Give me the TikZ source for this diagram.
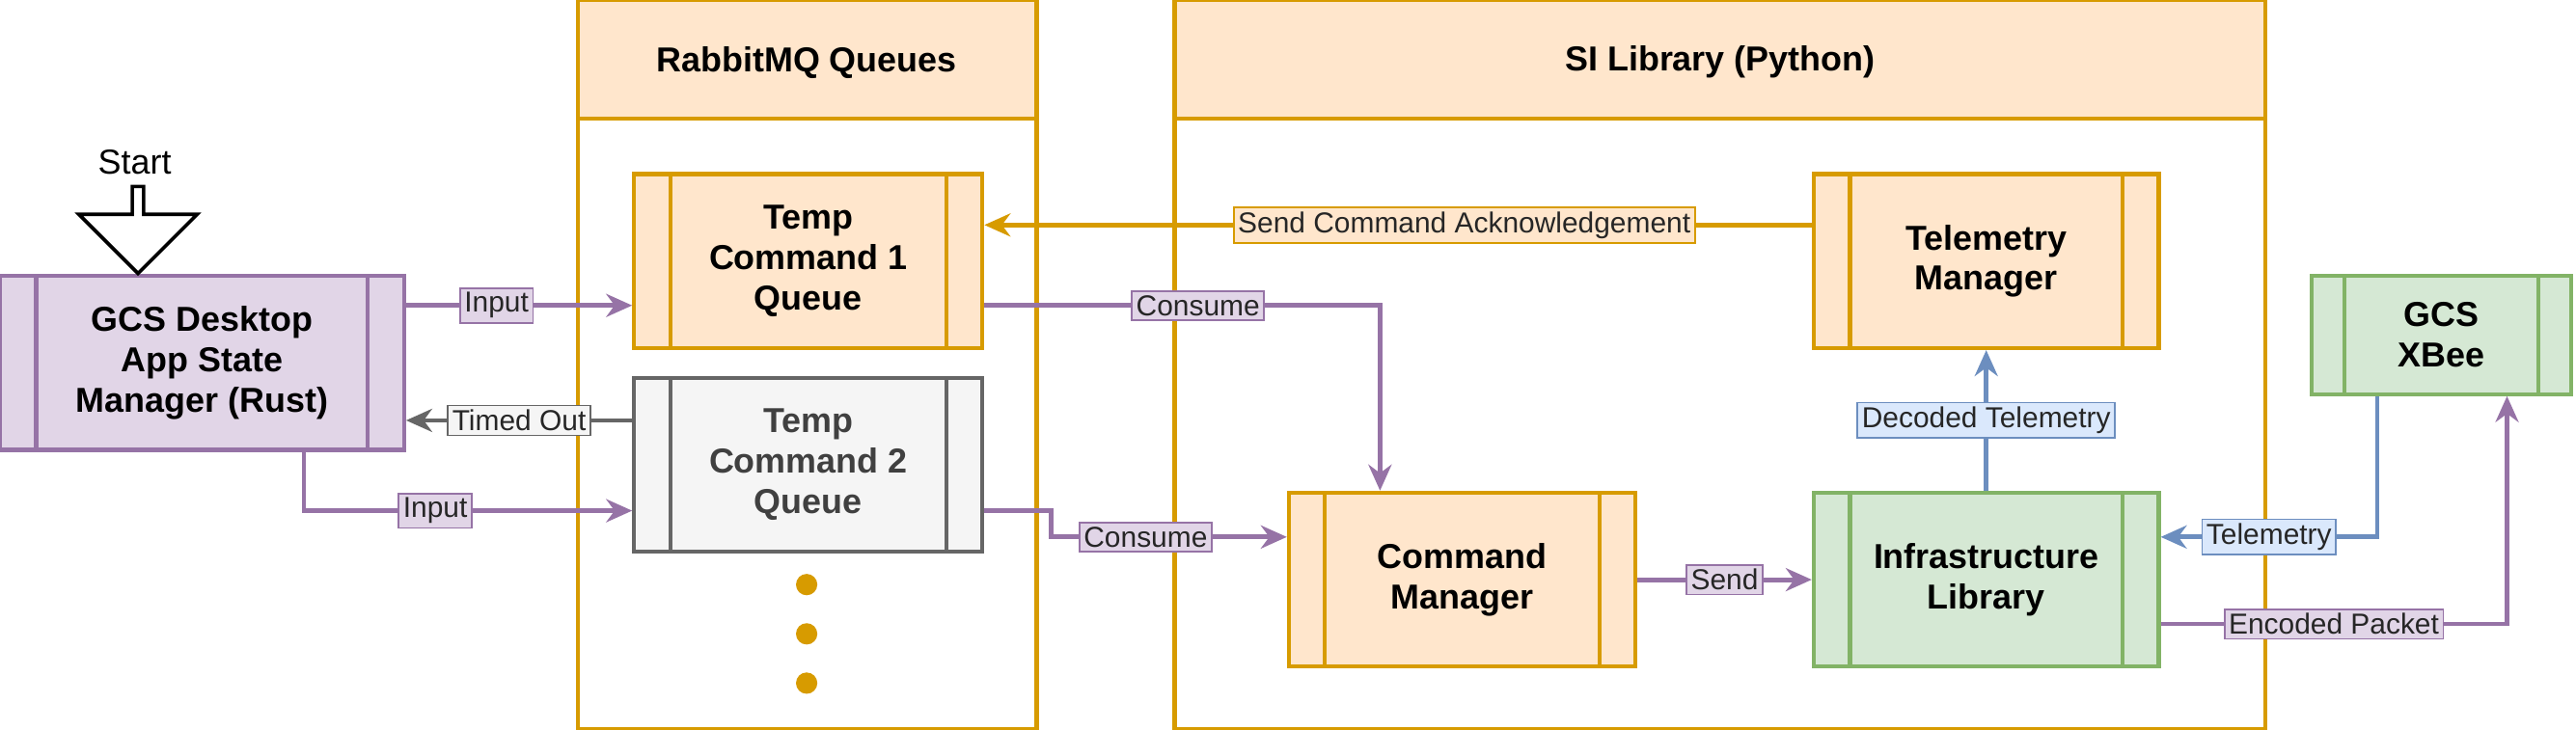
\documentclass[tikz,border=0pt]{standalone}
\usepackage{fontspec}
\setmainfont{Liberation Sans}
\usetikzlibrary{arrows.meta,calc,shapes.arrows}
\definecolor{pfill}{HTML}{E1D5E7}\definecolor{pline}{HTML}{9673A6}
\definecolor{ofill}{HTML}{FFE6CC}\definecolor{oline}{HTML}{D79B00}
\definecolor{gfill}{HTML}{F5F5F5}\definecolor{gline}{HTML}{666666}
\definecolor{nfill}{HTML}{D5E8D4}\definecolor{nline}{HTML}{82B366}
\definecolor{bfill}{HTML}{DAE8FC}\definecolor{bline}{HTML}{6C8EBF}
\tikzset{
  proc/.style={draw=#1line,fill=#1fill,line width=1.4pt,align=center,font=\bfseries\large,
    inner sep=0pt,
    path picture={\draw[#1line,line width=1.4pt]
      ([xshift=0.44cm]path picture bounding box.north west) -- ([xshift=0.44cm]path picture bounding box.south west)
      ([xshift=-0.44cm]path picture bounding box.north east) -- ([xshift=-0.44cm]path picture bounding box.south east);}},
  lane/.style={draw=oline,line width=1.4pt},
  conn/.style={line width=1.6pt,-{Stealth[length=9pt,width=8pt]}},
  lbl/.style={draw=#1line,fill=#1fill,text=black!85,line width=0.6pt,font=\normalsize,inner sep=1.5pt}
}
\begin{document}
\begin{tikzpicture}[x=0.02cm,y=-0.02cm]
\useasboundingbox (0,0) rectangle (1568,444);
% containers
\draw[lane] (352,0) rectangle (631,444);
\draw[lane,fill=ofill] (352,0) rectangle (631,72);
\node[font=\bfseries\large] (rmq) at (491,38) {RabbitMQ Queues};
\draw[lane] (715,0) rectangle (1379,444);
\draw[lane,fill=ofill] (715,0) rectangle (1379,72);
\node[font=\bfseries\large] (si) at (1047,38) {SI Library (Python)};
% boxes
\node[proc=p,minimum width=4.92cm,minimum height=2.12cm] (gcs) at (123,221) {GCS Desktop\\App State\\Manager (Rust)};
\node[proc=o,minimum width=4.24cm,minimum height=2.12cm] (tq1) at (492,159) {Temp\\Command 1\\Queue};
\node[proc=g,text=black!75,minimum width=4.24cm,minimum height=2.12cm] (tq2) at (492,283) {Temp\\Command 2\\Queue};
\node[proc=o,minimum width=4.2cm,minimum height=2.12cm] (tm) at (1209,159) {Telemetry\\Manager};
\node[proc=o,minimum width=4.22cm,minimum height=2.12cm] (cm) at (890,353) {Command\\Manager};
\node[proc=n,minimum width=4.2cm,minimum height=2.12cm] (il) at (1209,353) {Infrastructure\\Library};
\node[draw=nline,fill=nfill,line width=1.4pt,align=center,font=\bfseries\large,
  minimum width=3.16cm,minimum height=1.44cm,inner sep=0pt,
  path picture={\draw[nline,line width=1.4pt]
    ([xshift=0.4cm]path picture bounding box.north west) -- ([xshift=0.4cm]path picture bounding box.south west)
    ([xshift=-0.4cm]path picture bounding box.north east) -- ([xshift=-0.4cm]path picture bounding box.south east);}]
  (xb) at (1486,204) {GCS\\XBee};
% dots
\foreach \y in {356,386,416} \fill[oline] (491,\y) circle (0.13cm);
% start
\node[single arrow,draw,line width=1.2pt,fill=white,shape border rotate=270,
  minimum width=1.44cm,single arrow head extend=0.2cm,minimum height=1.06cm,inner sep=0pt,
  anchor=tip] (st) at (84,168) {};
\node[font=\large] (stl) at (82,99) {Start};
% connectors
\draw[conn,pline] (gcs.east |- 0,186) -- node[lbl=p,pos=0.4] {Input} (tq1.west |- 0,186);
\draw[conn,gline] (tq2.west |- 0,256) -- node[lbl=g] {Timed Out} (gcs.east |- 0,256);
\draw[conn,pline] (185,274) |- node[lbl=p,pos=0.7] {Input} (tq2.west |- 0,311);
\draw[conn,pline] (tq1.east |- 0,186) -| node[lbl=p,pos=0.27] {Consume} (cm.north -| 840,0);
\draw[conn,pline] (tq2.east |- 0,311) -- (640,311) |- node[lbl=p,pos=0.7] {Consume} (cm.west |- 0,327);
\draw[conn,pline] (cm) -- node[lbl=p] {Send} (il);
\draw[conn,bline] (il) -- node[lbl=b] {Decoded Telemetry} (tm);
\draw[conn,oline] (tm.west |- 0,137) -- node[lbl=o,pos=0.42] {Send Command Acknowledgement} (tq1.east |- 0,137);
\draw[conn,bline] (xb.south -| 1447,0) |- node[lbl=b,pos=0.75] {Telemetry} (il.east |- 0,327);
\draw[conn,pline] (il.east |- 0,380) -| node[lbl=p,pos=0.25] {Encoded Packet} (xb.south -| 1526,0);
\end{tikzpicture}
\end{document}
